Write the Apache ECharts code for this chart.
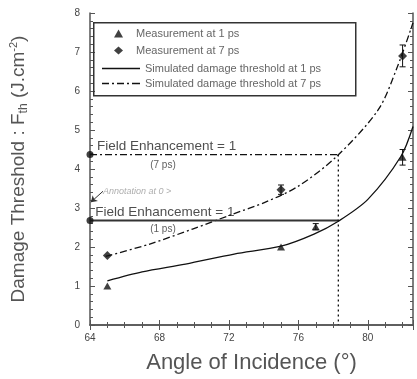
<!DOCTYPE html>
<html>
<head>
<meta charset="utf-8">
<script src="https://cdn.jsdelivr.net/npm/echarts@6/dist/echarts.min.js"></script>
<style>
  html, body { margin: 0; padding: 0; background: #fff; }
  #chart { width: 417px; height: 379px; }
</style>
</head>
<body>
<div id="chart"></div>
<script>
// values
const sim1psAngle = [65.0, 67.0, 69.5, 72.3, 75.0, 76.9, 78.3, 80.0, 81.9, 82.6]
const sim1psF = [1.13, 1.36, 1.56, 1.82, 2.02, 2.33, 2.66, 3.22, 4.32, 5.09]
const sim7psAngle = [64.9, 67.4, 69.9, 72.2, 74.1, 76.0, 78.2, 80.6, 81.7, 82.6]
const sim7psF = [1.76, 2.07, 2.46, 2.84, 3.15, 3.56, 4.32, 5.52, 6.62, 7.75]

const meas1psAngle = [65.0, 75.0, 77.0, 82.0]
const meas1psF = [1.0, 2.0, 2.52, 4.3]
const meas1psErr = [0, 0, 0.08, 0.2]
const meas7psAngle = [65.0, 75.0, 82.0]
const meas7psF = [1.78, 3.47, 6.9]
const meas7psErr = [0, 0.12, 0.28]

const fe7ps = 4.37
const fe1ps = 2.68
const feAngle = 78.3

const xTicks = [64, 68, 72, 76, 80]
const yTicks = [0, 1, 2, 3, 4, 5, 6, 7, 8]

const zip = (xs, ys) => xs.map((x, i) => [x, ys[i]])

const chart = echarts.init(document.getElementById('chart'))

const axisGray = '#555'
const baseFont = 'Liberation Sans, Arial, sans-serif'

const errBars = (xs, ys, es) => xs
  .map((x, i) => [x, ys[i] - es[i], ys[i] + es[i], es[i]])
  .filter(d => d[3] > 0)

const renderErr = (params, api) => {
  const lo = api.coord([api.value(0), api.value(1)])
  const hi = api.coord([api.value(0), api.value(2)])
  const w = 3
  return {
    type: 'group',
    children: [
      { type: 'line', shape: { x1: lo[0], y1: lo[1], x2: hi[0], y2: hi[1] }, style: { stroke: '#111', lineWidth: 1 } },
      { type: 'line', shape: { x1: lo[0] - w, y1: lo[1], x2: lo[0] + w, y2: lo[1] }, style: { stroke: '#111', lineWidth: 1 } },
      { type: 'line', shape: { x1: hi[0] - w, y1: hi[1], x2: hi[0] + w, y2: hi[1] }, style: { stroke: '#111', lineWidth: 1 } }
    ]
  }
}

const textLabel = (x, y, text, opts) => ({
  value: [x, y],
  label: Object.assign({ show: true, formatter: text }, opts)
})

const legendText = { fontSize: 11, color: '#666', fontFamily: baseFont }
// legend icons for the two simulated curves (solid, dash-dot)
const solidIcon = 'path://M0,0h38v1.3h-38z'
const dashDotIcon = 'path://M0,0h7v1.3h-7z M10,0h2v1.3h-2z M15,0h7v1.3h-7z M25,0h2v1.3h-2z M30,0h8v1.3h-8z'

const options = {
  animation: false,
  textStyle: { fontFamily: baseFont },
  grid: { left: 87, right: 4, top: 13, bottom: 53 },
  // box round both legends
  graphic: [{
    type: 'rect', left: 93, top: 22, z: 10,
    shape: { width: 262, height: 73 },
    style: { fill: 'transparent', stroke: '#333', lineWidth: 1.5 }
  }],
  legend: [
    {
      left: 109, top: 23,
      orient: 'vertical',
      data: ['Measurement at 1 ps', 'Measurement at 7 ps'],
      itemWidth: 9, itemHeight: 8, itemGap: 6,
      textStyle: Object.assign({ padding: [0, 0, 0, 8] }, legendText)
    },
    {
      left: 97, top: 58,
      orient: 'vertical',
      data: [
        { name: 'Simulated damage threshold at 1 ps', icon: solidIcon },
        { name: 'Simulated damage threshold at 7 ps', icon: dashDotIcon }
      ],
      itemWidth: 38, itemHeight: 8, itemGap: 4,
      textStyle: legendText
    }
  ],
  xAxis: [
    {
      type: 'value', min: 64, max: 82.6, interval: 4,
      name: 'Angle of Incidence (°)',
      nameLocation: 'middle', nameGap: 27,
      nameTextStyle: { fontSize: 22, color: axisGray },
      axisLine: { lineStyle: { color: axisGray, width: 1.5 } },
      axisTick: { inside: true, length: 5, lineStyle: { color: axisGray } },
      minorTick: { show: true, splitNumber: 4, length: 3, lineStyle: { color: axisGray } },
      axisLabel: {
        fontSize: 10, color: '#444', margin: 8, showMaxLabel: false,
        formatter: v => xTicks.includes(v) ? String(v) : ''
      },
      splitLine: { show: false }
    },
    {
      type: 'value', min: 64, max: 82.6, interval: 4, position: 'top',
      axisLine: { lineStyle: { color: axisGray, width: 1.5 } },
      axisTick: { inside: true, length: 5, lineStyle: { color: axisGray } },
      minorTick: { show: true, splitNumber: 4, length: 3, lineStyle: { color: axisGray } },
      axisLabel: { show: false },
      splitLine: { show: false }
    }
  ],
  yAxis: [
    {
      type: 'value', min: 0, max: 8, interval: 1,
      name: 'Damage Threshold : F{sub|th} (J.cm{sup|-2})',
      nameLocation: 'middle', nameGap: 60,
      nameTextStyle: {
        fontSize: 19, color: axisGray,
        rich: {
          sub: { fontSize: 12, color: axisGray, verticalAlign: 'bottom', padding: [9, 0, 0, 0] },
          sup: { fontSize: 11, color: axisGray, verticalAlign: 'top', padding: [0, 0, 11, 0] }
        }
      },
      axisLine: { lineStyle: { color: axisGray, width: 1.5 } },
      axisTick: { inside: true, length: 5, lineStyle: { color: axisGray } },
      minorTick: { show: true, splitNumber: 5, length: 3, lineStyle: { color: axisGray } },
      axisLabel: {
        fontSize: 10, color: '#444', margin: 10,
        formatter: v => yTicks.includes(v) ? String(v) : ''
      },
      splitLine: { show: false }
    },
    {
      type: 'value', min: 0, max: 8, interval: 1, position: 'right',
      axisLine: { lineStyle: { color: axisGray, width: 1.5 } },
      axisTick: { inside: true, length: 5, lineStyle: { color: axisGray } },
      minorTick: { show: true, splitNumber: 5, length: 3, lineStyle: { color: axisGray } },
      axisLabel: { show: false },
      splitLine: { show: false }
    }
  ],
  series: [
    {
      name: 'Measurement at 1 ps',
      type: 'scatter',
      symbol: 'triangle', symbolSize: [8, 7],
      itemStyle: { color: '#111' },
      data: zip(meas1psAngle, meas1psF),
      z: 5
    },
    {
      name: 'Measurement at 7 ps',
      type: 'scatter',
      symbol: 'diamond', symbolSize: 9,
      itemStyle: { color: '#111' },
      data: zip(meas7psAngle, meas7psF),
      z: 5
    },
    {
      name: 'Simulated damage threshold at 1 ps',
      type: 'line',
      smooth: 0.3, showSymbol: false, symbol: 'none',
      lineStyle: { color: '#111', width: 1.3 },
      itemStyle: { color: '#111' },
      data: zip(sim1psAngle, sim1psF)
    },
    {
      name: 'Simulated damage threshold at 7 ps',
      type: 'line',
      smooth: 0.3, showSymbol: false, symbol: 'none',
      lineStyle: { color: '#111', width: 1.3, type: [7, 3, 2, 3] },
      itemStyle: { color: '#111' },
      data: zip(sim7psAngle, sim7psF)
    },
    {
      type: 'custom',
      renderItem: renderErr,
      data: errBars(meas1psAngle, meas1psF, meas1psErr).concat(errBars(meas7psAngle, meas7psF, meas7psErr)),
      z: 4
    },
    {
      // field enhancement = 1 at 7 ps
      type: 'line', symbol: 'none',
      lineStyle: { color: '#111', width: 1.2, type: [7, 3, 2, 3] },
      data: [[64, fe7ps], [feAngle, fe7ps]]
    },
    {
      // field enhancement = 1 at 1 ps
      type: 'line', symbol: 'none',
      lineStyle: { color: '#333', width: 2.2 },
      data: [[64, fe1ps], [feAngle, fe1ps]]
    },
    {
      type: 'line', symbol: 'none',
      lineStyle: { color: '#111', width: 1.3, type: [2, 3] },
      data: [[feAngle, fe7ps], [feAngle, 0]]
    },
    {
      type: 'scatter', symbol: 'circle', symbolSize: 7, clip: false,
      itemStyle: { color: '#111' },
      data: [[64, fe7ps], [64, fe1ps]],
      z: 6
    },
    {
      // text annotations
      type: 'scatter', symbolSize: 0, clip: false, silent: true,
      itemStyle: { color: 'transparent' },
      data: [
        textLabel(64.4, fe7ps, 'Field Enhancement = 1', { position: [0, -15], fontSize: 13.5, color: '#222' }),
        textLabel(68.2, fe7ps - 0.27, '(7 ps)', { position: 'inside', fontSize: 10, color: '#333' }),
        textLabel(64.3, fe1ps, 'Field Enhancement = 1', { position: [0, -15], fontSize: 13.5, color: '#222' }),
        textLabel(68.2, fe1ps - 0.22, '(1 ps)', { position: 'inside', fontSize: 10, color: '#333' }),
        textLabel(64.75, 3.43, 'Annotation at 0 >', { position: 'right', distance: 0, fontSize: 9, fontStyle: 'italic', color: '#999' })
      ],
      markLine: {
        silent: true,
        symbol: ['none', 'arrow'], symbolSize: 6,
        label: { show: false },
        lineStyle: { color: '#333', width: 1, type: 'solid' },
        data: [[{ coord: [64.75, 3.43] }, { coord: [64.05, 3.15] }]]
      }
    }
  ]
}

chart.setOption(options)
</script>
</body>
</html>
